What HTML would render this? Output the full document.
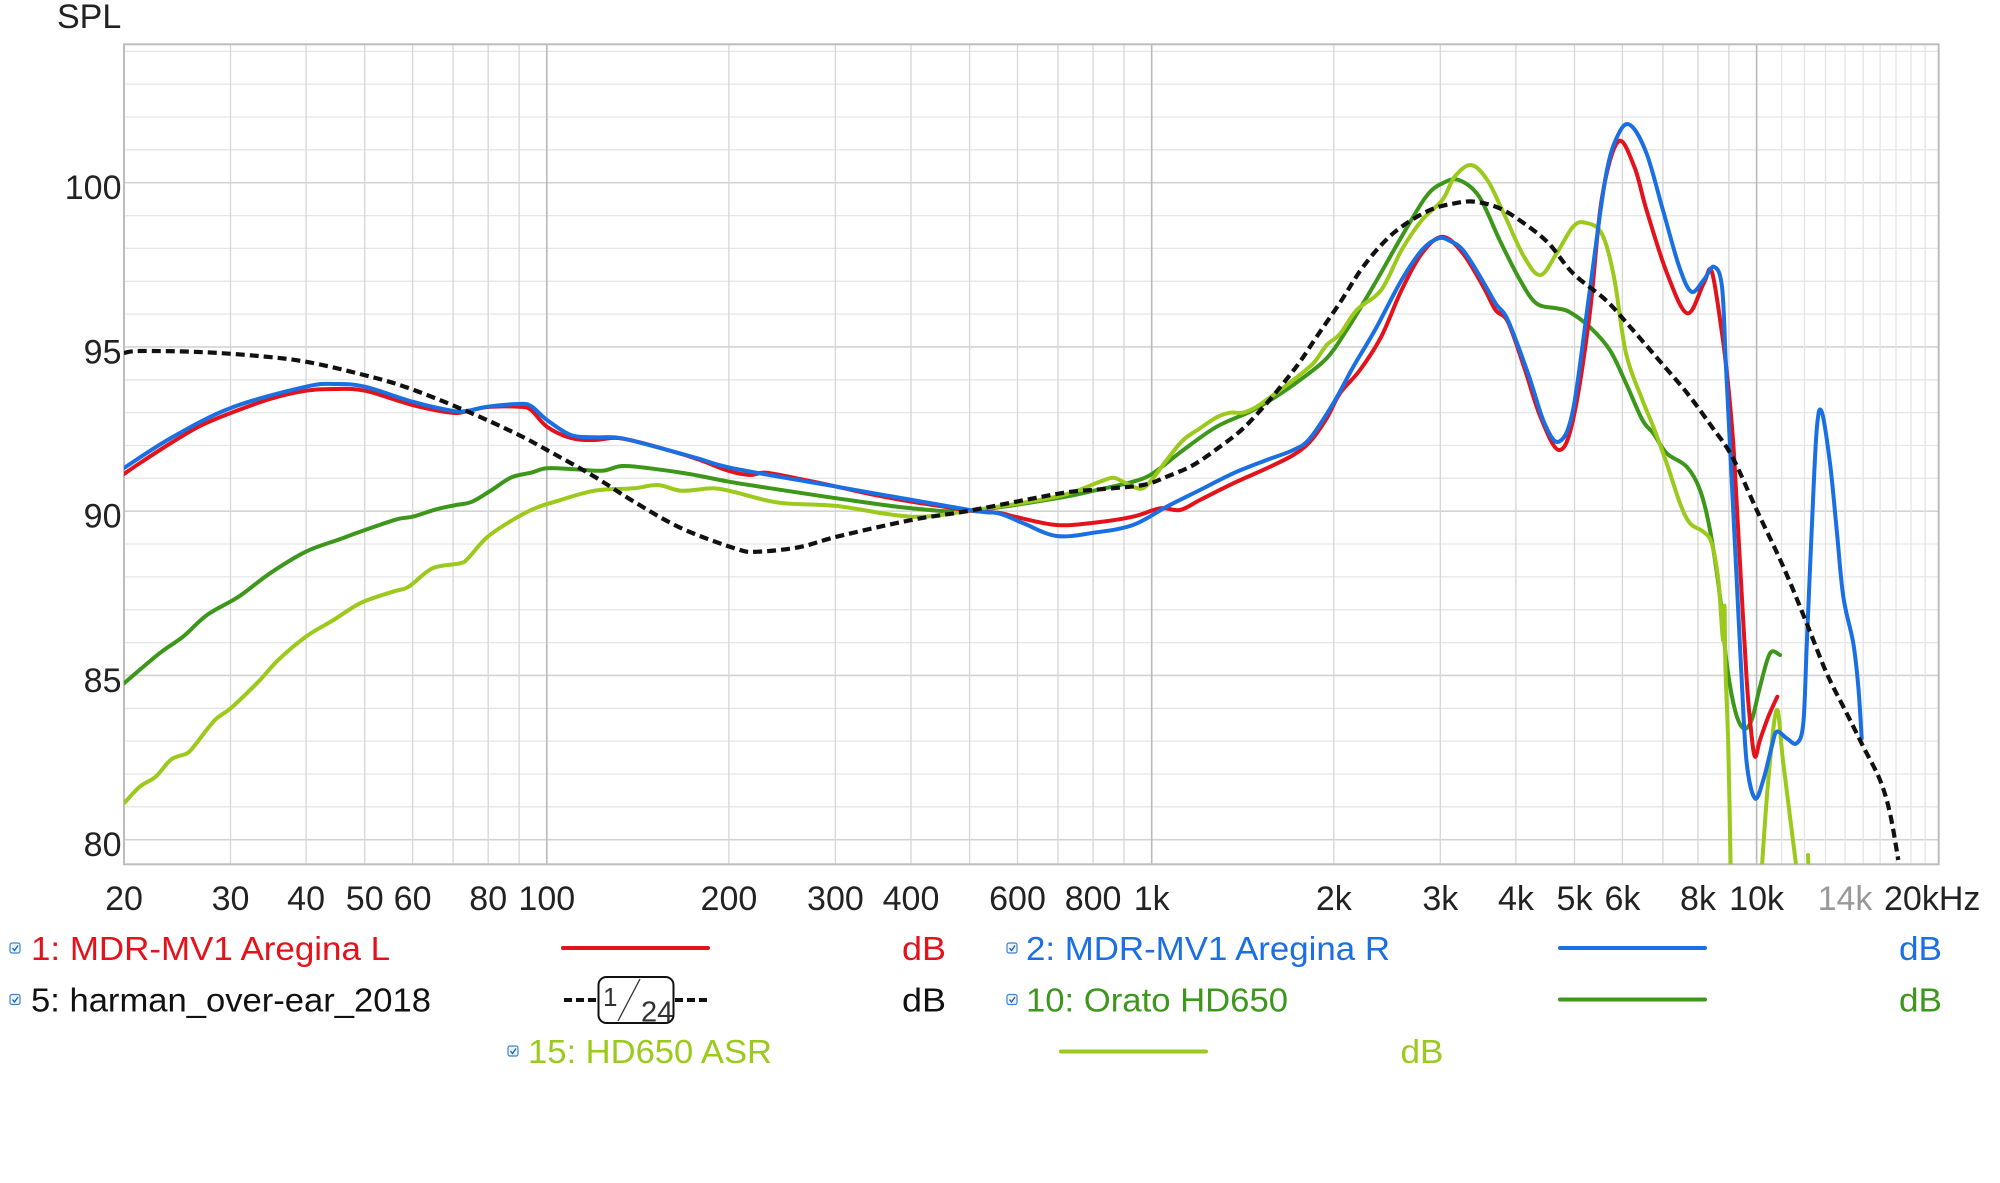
<!DOCTYPE html>
<html><head><meta charset="utf-8"><style>
html,body{margin:0;padding:0;background:#fff;}
svg{display:block;}
text{font-family:"Liberation Sans",Arial,sans-serif;}
</style></head><body>
<svg id="chart" width="2000" height="1183" viewBox="0 0 2000 1183" xmlns="http://www.w3.org/2000/svg">
<defs><clipPath id="pc"><rect x="124" y="44.3" width="1814.7" height="820"/></clipPath></defs>
<rect width="2000" height="1183" fill="#fff"/>
<g stroke-width="1.3" fill="none">
<g stroke="#e6e6e6">
<line x1="124" x2="1938.7" y1="51.3" y2="51.3"/><line x1="124" x2="1938.7" y1="84.1" y2="84.1"/><line x1="124" x2="1938.7" y1="117" y2="117"/><line x1="124" x2="1938.7" y1="149.8" y2="149.8"/>
<line x1="124" x2="1938.7" y1="215.6" y2="215.6"/><line x1="124" x2="1938.7" y1="248.4" y2="248.4"/><line x1="124" x2="1938.7" y1="281.3" y2="281.3"/><line x1="124" x2="1938.7" y1="314.1" y2="314.1"/>
<line x1="124" x2="1938.7" y1="379.8" y2="379.8"/><line x1="124" x2="1938.7" y1="412.6" y2="412.6"/><line x1="124" x2="1938.7" y1="445.5" y2="445.5"/><line x1="124" x2="1938.7" y1="478.3" y2="478.3"/>
<line x1="124" x2="1938.7" y1="544" y2="544"/><line x1="124" x2="1938.7" y1="576.9" y2="576.9"/><line x1="124" x2="1938.7" y1="609.7" y2="609.7"/><line x1="124" x2="1938.7" y1="642.6" y2="642.6"/>
<line x1="124" x2="1938.7" y1="708.3" y2="708.3"/><line x1="124" x2="1938.7" y1="741.1" y2="741.1"/><line x1="124" x2="1938.7" y1="774" y2="774"/><line x1="124" x2="1938.7" y1="806.8" y2="806.8"/>
</g>
<g stroke="#d3d3d3" stroke-width="1.6">
<line x1="124" x2="1938.7" y1="182.7" y2="182.7"/><line x1="124" x2="1938.7" y1="346.9" y2="346.9"/><line x1="124" x2="1938.7" y1="511.2" y2="511.2"/><line x1="124" x2="1938.7" y1="675.4" y2="675.4"/><line x1="124" x2="1938.7" y1="839.7" y2="839.7"/>
</g>
<g stroke="#d6d6d6">
<line y1="44.3" y2="864.3" x1="230.5" x2="230.5"/><line y1="44.3" y2="864.3" x1="306.1" x2="306.1"/><line y1="44.3" y2="864.3" x1="364.7" x2="364.7"/><line y1="44.3" y2="864.3" x1="412.6" x2="412.6"/><line y1="44.3" y2="864.3" x1="453.1" x2="453.1"/><line y1="44.3" y2="864.3" x1="488.2" x2="488.2"/><line y1="44.3" y2="864.3" x1="519.1" x2="519.1"/>
<line y1="44.3" y2="864.3" x1="728.9" x2="728.9"/><line y1="44.3" y2="864.3" x1="835.4" x2="835.4"/><line y1="44.3" y2="864.3" x1="911" x2="911"/><line y1="44.3" y2="864.3" x1="969.6" x2="969.6"/><line y1="44.3" y2="864.3" x1="1017.5" x2="1017.5"/><line y1="44.3" y2="864.3" x1="1058" x2="1058"/><line y1="44.3" y2="864.3" x1="1093.1" x2="1093.1"/><line y1="44.3" y2="864.3" x1="1124" x2="1124"/>
<line y1="44.3" y2="864.3" x1="1333.8" x2="1333.8"/><line y1="44.3" y2="864.3" x1="1440.3" x2="1440.3"/><line y1="44.3" y2="864.3" x1="1515.9" x2="1515.9"/><line y1="44.3" y2="864.3" x1="1574.5" x2="1574.5"/><line y1="44.3" y2="864.3" x1="1622.4" x2="1622.4"/><line y1="44.3" y2="864.3" x1="1662.9" x2="1662.9"/><line y1="44.3" y2="864.3" x1="1698" x2="1698"/><line y1="44.3" y2="864.3" x1="1728.9" x2="1728.9"/>
</g>
<g stroke="#e4e4e4">
<line y1="44.3" y2="864.3" x1="1781.7" x2="1781.7"/><line y1="44.3" y2="864.3" x1="1804.5" x2="1804.5"/><line y1="44.3" y2="864.3" x1="1825.5" x2="1825.5"/><line y1="44.3" y2="864.3" x1="1845" x2="1845"/><line y1="44.3" y2="864.3" x1="1863.2" x2="1863.2"/><line y1="44.3" y2="864.3" x1="1880.1" x2="1880.1"/><line y1="44.3" y2="864.3" x1="1896" x2="1896"/><line y1="44.3" y2="864.3" x1="1911" x2="1911"/><line y1="44.3" y2="864.3" x1="1925.2" x2="1925.2"/>
</g>
<g stroke="#b9b9b9" stroke-width="1.6">
<line y1="44.3" y2="864.3" x1="546.8" x2="546.8"/><line y1="44.3" y2="864.3" x1="1151.7" x2="1151.7"/><line y1="44.3" y2="864.3" x1="1756.6" x2="1756.6"/>
</g>
<rect x="124" y="44.3" width="1814.7" height="820" stroke="#bdbdbd" stroke-width="2"/>
</g>

<g clip-path="url(#pc)" fill="none" stroke-linejoin="round" stroke-linecap="round">
<polyline class="sm" stroke="#3d971b" stroke-width="4" points="124,683.3 159.5,653.3 183,636.7 207,615 238.6,596.7 270,573.3 305.8,551.7 337.5,540 365,530 396.8,519.3 412.6,516.7 436.3,509.3 456,505 472,501.7 491.7,490 511.5,477.3 531,472.7 547,468.3 574.7,469.3 602.4,470.7 622,466 649.8,468.3 689.4,474 729,481.7 770.5,488.3 836.8,498.3 911.4,508.3 969.5,510.7 1056.5,498.3 1100,489.3 1133,481.7 1153,473.3 1183.3,450 1216.7,426.7 1250,411.7 1273.3,398.3 1300,380 1326.7,358.3 1346.7,330 1373,286.7 1401.6,236.7 1426,196.7 1442.4,183.3 1458.8,180 1479.2,196.7 1499.6,240 1520,280 1536.3,303.3 1556.7,308.3 1569,311.7 1589.4,326.7 1609.8,350 1626,383.3 1642.4,420 1653.3,433.3 1666.7,453.3 1686.7,466.7 1700,490 1710,530 1720,596.7 1726.7,663.3 1735,710 1743.3,728.3 1751.7,720 1760,686.7 1770,653.3 1780,655"/>
<polyline class="sm" stroke="#9bc91c" stroke-width="4" points="124,803.3 139.8,786.7 155.6,776.7 171.4,759.3 187.2,753.3 195,745 214.9,720 230.7,708.3 258.4,681.7 278.2,660 305.8,636.7 333.5,620 361.2,602.7 392.8,591.7 408.7,586.7 432.4,568.3 460,563.3 468,558.3 487.7,536.7 515.4,518.3 535,508.3 555,501.7 594.5,490.7 634,488.3 657.8,485 681.5,490.7 713,488.3 733,491.7 778.8,502.7 836.8,506 911.4,516.7 969.5,510.7 1056.5,496.7 1100,481.7 1113,477.7 1123,481.7 1133,486.7 1143,488.3 1153,478.3 1166.7,460 1183.3,440 1200,428.3 1216.7,417.3 1230,412.7 1243,412.7 1256.7,406.7 1273.3,395 1293.3,380 1313.3,363.3 1326.7,345 1340,334 1356.7,310 1381.2,290 1401.6,250 1422,220 1442.4,200 1454.7,176.7 1471,165 1487.3,180 1503.7,213.3 1524,256.7 1540.4,275 1556.7,253.3 1573,226.7 1585.3,222.7 1601.6,233.3 1613.9,276.7 1626,353.3 1642.4,400 1653.3,426.7 1666.7,463.3 1680,503.3 1690,523.3 1703.3,531.7 1711.7,543.3 1718.3,580 1723,640 1724.5,606 1725.5,670 1728.3,746.7 1730.7,870"/>
<polyline class="sm" stroke="#9bc91c" stroke-width="4" points="1761.7,870 1768.3,780 1776.7,710 1783.3,763.3 1796.7,870"/>
<polyline stroke="#9bc91c" stroke-width="4" points="1808,855 1808.5,870"/>
<polyline class="sm" stroke="#e4121b" stroke-width="4" points="124,474 140,463 171,443 200,426 230.7,413 270,399 306,390.7 335.5,389 365,390.7 412.6,405 452,412.7 468,411 487.7,407 519,406.7 531,410 547,426.7 570.8,438 594.5,440 622,438.5 673.6,451.7 700,460 729,471 749.8,475 766.3,472.7 800,479 836.8,486.7 870,494 911.4,501.7 940,506 969.5,510.7 1000,513 1015,516.7 1056.5,525 1093.9,522.7 1133,516.7 1160,508.3 1180,510 1200,500 1233.3,483.3 1266.7,468.3 1293.3,455 1310,441.7 1326.7,418.3 1340,393.3 1360,370 1381.2,336.7 1401.6,290 1422,253.3 1442.4,236.7 1462.9,253.3 1483.3,286.7 1495.5,310 1507.8,321.7 1524,366.7 1540.4,416.7 1558.8,450 1573,420 1589.4,316.7 1601.6,200 1618,141.7 1634.3,166.7 1646.5,210 1667,273.3 1687.3,313.3 1703.7,283.3 1711.8,271.7 1722,333.3 1728,383.3 1733,440 1736,490 1740,563.3 1746.7,680 1751,730 1755,756.7 1760,740 1768.3,716.7 1777.3,696.7"/>
<polyline class="sm" stroke="#1a6fe3" stroke-width="4" points="124,468 171,438 230.7,408 306,386.7 335.5,384 365,386.7 412.6,401.7 452,410.7 468,410.7 487.7,406.7 519,404 531,406 547,420 570.8,435 594.5,437.3 622,438.3 673.6,451.7 700,459 733,468.3 836.8,486.7 969.5,510 998.5,513.3 1023.4,523.3 1056.5,536 1093.9,532.7 1133,525 1166.7,506.7 1200,490 1233.3,473.3 1266.7,460 1293.3,450 1310,438.3 1333.3,403.3 1353.3,366.7 1375,330 1401.6,280 1422,250 1438.4,238.3 1450,241 1462.9,250 1479.2,275 1495.5,303.3 1507.8,320 1528,373.3 1544.5,423.3 1558.8,441.7 1573,410 1589.4,293.3 1605.7,176.7 1618,135 1630.2,125 1646.5,153.3 1662.9,210 1679.2,266.7 1691.4,291.7 1703.7,280 1713.9,266.7 1722,286.7 1726,366.7 1731.7,480 1736.7,580 1741.7,680 1746.7,763 1755,798.3 1763.3,780 1771.7,746.7 1776.7,731.7 1786.7,738.3 1796.7,743.3 1803.3,723.3 1806.7,646.7 1811.7,530 1816.7,430 1821.7,411.7 1830,463.3 1836.7,530 1843.3,596.7 1853.3,643.3 1858.3,686.7 1861.7,738.3"/>
<polyline class="sm" stroke="#111" stroke-width="4.2" stroke-linecap="butt" stroke-dasharray="9 5" points="124,353 139.8,351 199,352 258.4,356 305.8,361.7 357.2,373.3 404.7,386.7 464,410 515.4,433.3 547,450 594.5,476.7 634,501.7 681.5,528.3 736.8,549 758,551.7 800,547 836.8,536.7 911.4,520 969.5,510.7 1060.7,493.3 1100,489.3 1143,485 1166.7,476.7 1193.3,465 1220,446.7 1243.3,428.3 1266.7,403.3 1283.3,383.3 1300,361.7 1316.7,336.7 1340.4,302 1360.8,270 1381.2,245 1401.6,226.7 1430,210 1454.7,203.3 1475,201.7 1499.6,208.3 1524,223.3 1548.6,243.3 1573,273.3 1605.7,300 1630,326.7 1658.8,360 1687.3,393.3 1711.8,426.7 1732.2,456.7 1756.7,510 1783.3,566.7 1806.7,623.3 1826.7,673.3 1846.7,713.3 1863.3,746.7 1880,780 1890,813.3 1898.3,860"/>
</g>

<g font-size="34" fill="#222">
<text x="57" y="28">SPL</text>
<g text-anchor="end">
<text x="121.5" y="199.2">100</text>
<text x="121.5" y="363.4">95</text>
<text x="121.5" y="527.6">90</text>
<text x="121.5" y="691.9">85</text>
<text x="121.5" y="856.2">80</text>
</g>
<g text-anchor="middle">
<text x="124" y="910">20</text>
<text x="230.5" y="910">30</text>
<text x="306.1" y="910">40</text>
<text x="364.7" y="910">50</text>
<text x="412.6" y="910">60</text>
<text x="488.2" y="910">80</text>
<text x="546.8" y="910">100</text>
<text x="728.9" y="910">200</text>
<text x="835.4" y="910">300</text>
<text x="911" y="910">400</text>
<text x="1017.5" y="910">600</text>
<text x="1093.1" y="910">800</text>
<text x="1151.7" y="910">1k</text>
<text x="1333.8" y="910">2k</text>
<text x="1440.3" y="910">3k</text>
<text x="1515.9" y="910">4k</text>
<text x="1574.5" y="910">5k</text>
<text x="1622.4" y="910">6k</text>
<text x="1698" y="910">8k</text>
<text x="1756.6" y="910">10k</text>
<text x="1845" y="910" fill="#999">14k</text>
</g>
<text x="1884" y="910">20kHz</text>
</g>

<g font-size="33">
<g>
<rect x="10" y="943" width="10" height="10" rx="2" fill="#eaf2fc" stroke="#3c86cf" stroke-width="1.2"/><path d="M12.5 948 l2 2.5 l3.5 -5" stroke="#1d5fa8" stroke-width="1.3" fill="none"/>
<text x="31" y="960" fill="#e4121b" textLength="359" lengthAdjust="spacingAndGlyphs">1: MDR-MV1 Aregina L</text>
<line x1="563" y1="948" x2="708" y2="948" stroke="#e4121b" stroke-width="4" stroke-linecap="round"/>
<text x="902" y="960" fill="#e4121b" textLength="44" lengthAdjust="spacingAndGlyphs">dB</text>
</g>
<g>
<rect x="1007" y="943" width="10" height="10" rx="2" fill="#eaf2fc" stroke="#3c86cf" stroke-width="1.2"/><path d="M1009.5 948 l2 2.5 l3.5 -5" stroke="#1d5fa8" stroke-width="1.3" fill="none"/>
<text x="1026" y="960" fill="#1a6fe3" textLength="364" lengthAdjust="spacingAndGlyphs">2: MDR-MV1 Aregina R</text>
<line x1="1560" y1="948" x2="1705" y2="948" stroke="#1a6fe3" stroke-width="4" stroke-linecap="round"/>
<text x="1899" y="960" fill="#1a6fe3" textLength="43" lengthAdjust="spacingAndGlyphs">dB</text>
</g>
<g>
<rect x="10" y="994.5" width="10" height="10" rx="2" fill="#eaf2fc" stroke="#3c86cf" stroke-width="1.2"/><path d="M12.5 999.5 l2 2.5 l3.5 -5" stroke="#1d5fa8" stroke-width="1.3" fill="none"/>
<text x="31" y="1011.5" fill="#111" textLength="400" lengthAdjust="spacingAndGlyphs">5: harman_over-ear_2018</text>
<line x1="564" y1="1000" x2="598" y2="1000" stroke="#111" stroke-width="4" stroke-dasharray="8 4"/>
<line x1="675" y1="1000" x2="707" y2="1000" stroke="#111" stroke-width="4" stroke-dasharray="8 4"/>
<rect x="598.5" y="977" width="75" height="46" rx="8" fill="#fff" stroke="#111" stroke-width="2"/>
<text x="603" y="1006" font-size="26" fill="#333">1</text>
<line x1="640" y1="979" x2="618" y2="1021" stroke="#333" stroke-width="1.3"/>
<text x="641" y="1021.5" font-size="29" fill="#333">24</text>
<text x="902" y="1011.5" fill="#111" textLength="44" lengthAdjust="spacingAndGlyphs">dB</text>
</g>
<g>
<rect x="1007" y="994.5" width="10" height="10" rx="2" fill="#eaf2fc" stroke="#3c86cf" stroke-width="1.2"/><path d="M1009.5 999.5 l2 2.5 l3.5 -5" stroke="#1d5fa8" stroke-width="1.3" fill="none"/>
<text x="1026" y="1011.5" fill="#3d971b" textLength="262" lengthAdjust="spacingAndGlyphs">10: Orato HD650</text>
<line x1="1560" y1="999.5" x2="1705" y2="999.5" stroke="#3d971b" stroke-width="4" stroke-linecap="round"/>
<text x="1899" y="1011.5" fill="#3d971b" textLength="43" lengthAdjust="spacingAndGlyphs">dB</text>
</g>
<g>
<rect x="508" y="1046" width="10" height="10" rx="2" fill="#eaf2fc" stroke="#3c86cf" stroke-width="1.2"/><path d="M510.5 1051 l2 2.5 l3.5 -5" stroke="#1d5fa8" stroke-width="1.3" fill="none"/>
<text x="528" y="1063" fill="#9bc91c" textLength="244" lengthAdjust="spacingAndGlyphs">15: HD650 ASR</text>
<line x1="1061" y1="1051.5" x2="1206" y2="1051.5" stroke="#9bc91c" stroke-width="4" stroke-linecap="round"/>
<text x="1400.5" y="1063" fill="#9bc91c" textLength="43" lengthAdjust="spacingAndGlyphs">dB</text>
</g>
</g>
</svg>
<script>
(function(){
  var ns="http://www.w3.org/2000/svg";
  var pls=document.querySelectorAll("polyline.sm");
  for(var k=0;k<pls.length;k++){
    var pl=pls[k];
    var raw=pl.getAttribute("points").trim().split(/\s+/);
    var p=[];
    for(var i=0;i<raw.length;i++){var a=raw[i].split(",");p.push([parseFloat(a[0]),parseFloat(a[1])]);}
    if(p.length<3)continue;
    var d="M"+p[0][0]+" "+p[0][1];
    for(var i=0;i<p.length-1;i++){
      var p0=p[i>0?i-1:i],p1=p[i],p2=p[i+1],p3=p[i+2<p.length?i+2:i+1];
      var c1x=p1[0]+(p2[0]-p0[0])/6,c1y=p1[1]+(p2[1]-p0[1])/6;
      var c2x=p2[0]-(p3[0]-p1[0])/6,c2y=p2[1]-(p3[1]-p1[1])/6;
      d+=" C"+c1x.toFixed(2)+" "+c1y.toFixed(2)+" "+c2x.toFixed(2)+" "+c2y.toFixed(2)+" "+p2[0]+" "+p2[1];
    }
    var path=document.createElementNS(ns,"path");
    var attrs=["stroke","stroke-width","stroke-dasharray","stroke-linecap"];
    for(var j=0;j<attrs.length;j++){var v=pl.getAttribute(attrs[j]);if(v)path.setAttribute(attrs[j],v);}
    path.setAttribute("d",d);
    pl.parentNode.replaceChild(path,pl);
  }
})();
</script>
</body></html>
